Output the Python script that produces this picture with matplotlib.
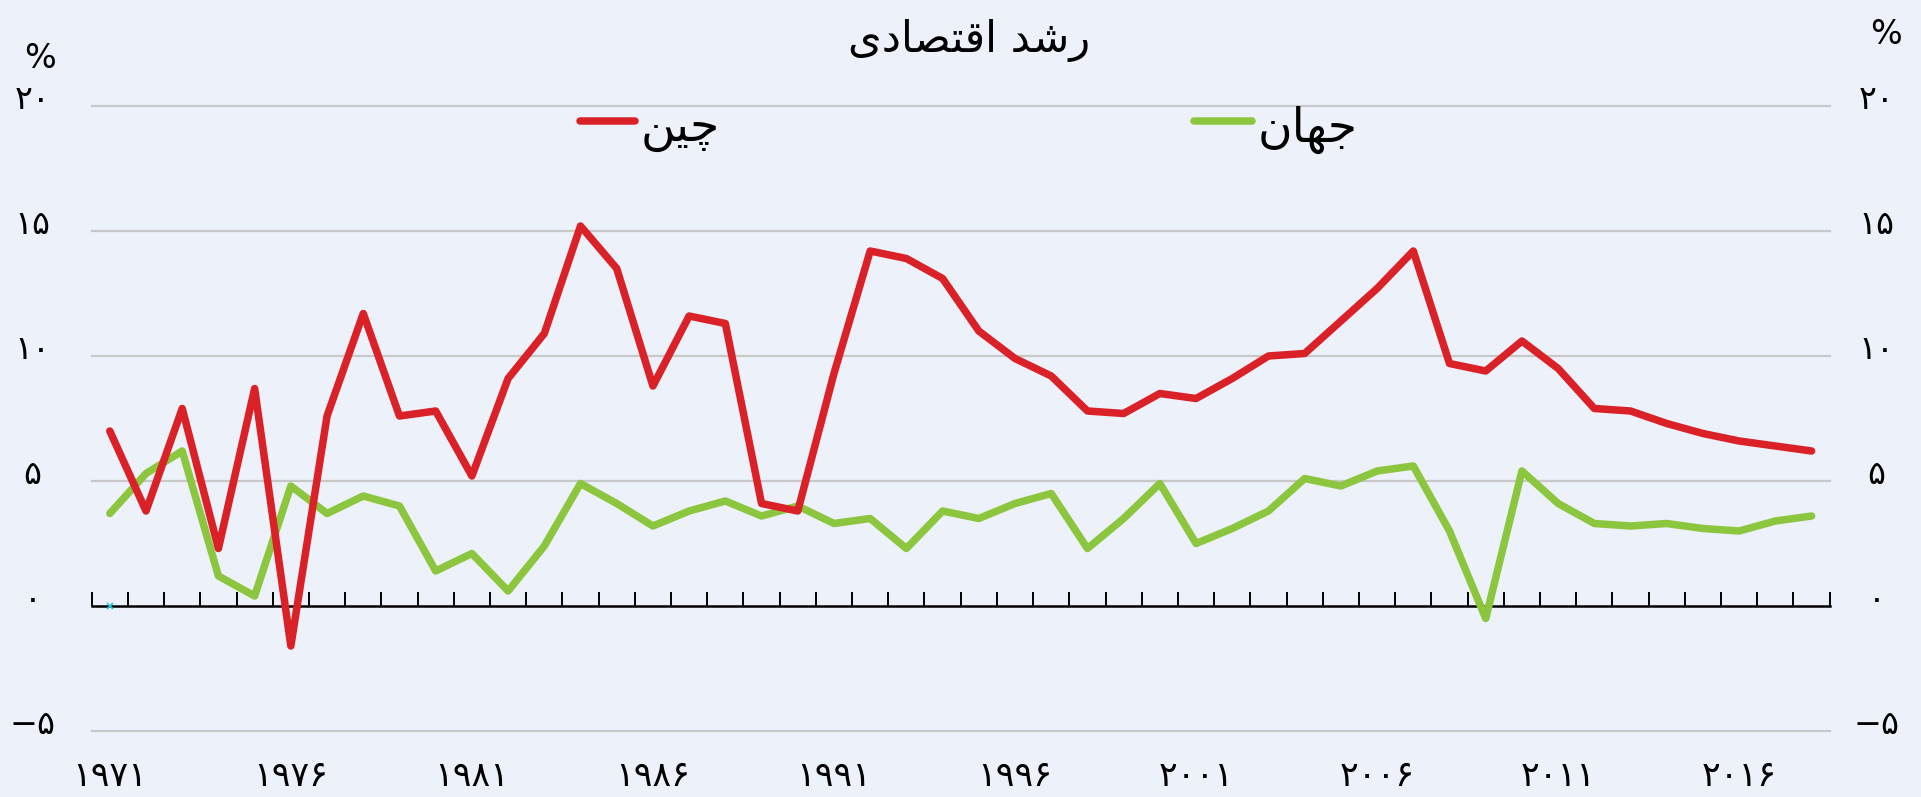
import matplotlib
matplotlib.use("Agg")
import matplotlib.pyplot as plt
from matplotlib.lines import Line2D
import numpy as np

# Data: annual GDP growth (%), 1971-2018
years = list(range(1971, 2019))
china = [7.0, 3.8, 7.9, 2.3, 8.7, -1.6, 7.6, 11.7, 7.6, 7.8,
         5.2, 9.1, 10.9, 15.2, 13.5, 8.8, 11.6, 11.3, 4.1, 3.8,
         9.3, 14.2, 13.9, 13.1, 11.0, 9.9, 9.2, 7.8, 7.7, 8.5,
         8.3, 9.1, 10.0, 10.1, 11.4, 12.7, 14.2, 9.7, 9.4, 10.6,
         9.5, 7.9, 7.8, 7.3, 6.9, 6.6, 6.4, 6.2]
world = [3.7, 5.3, 6.2, 1.2, 0.4, 4.8, 3.7, 4.4, 4.0, 1.4,
         2.1, 0.6, 2.4, 4.9, 4.1, 3.2, 3.8, 4.2, 3.6, 4.0,
         3.3, 3.5, 2.3, 3.8, 3.5, 4.1, 4.5, 2.3, 3.5, 4.9,
         2.5, 3.1, 3.8, 5.1, 4.8, 5.4, 5.6, 3.0, -0.5, 5.4,
         4.1, 3.3, 3.2, 3.3, 3.1, 3.0, 3.4, 3.6]
stray_year = [1971]
stray_value = [0]

y_ticks = [-5, 0, 5, 10, 15, 20]
grid_values = [-5, 5, 10, 15, 20]
year_labels = list(range(1971, 2019, 5))

FA_DIGITS = str.maketrans("0123456789-", "۰۱۲۳۴۵۶۷۸۹−")


def fa(n):
    return str(n).translate(FA_DIGITS)


# Persian text written with presentation forms in visual order,
# since matplotlib does no Arabic shaping or bidi
TITLE = "\uFEEF\uFEA9\uFE8E\uFEBC\uFE98\uFED7\uFE8D \uFEAA\uFEB7\uFEAD"
CHINA = "\uFEE6\uFEF4\uFB7C"
WORLD = "\uFEE5\uFE8E\uFEEC\uFE9F"

RED = "#DA2128"
GREEN = "#8CC63F"
BG = "#EDF1FA"
W, H = 1921, 797

plt.rcParams["font.family"] = ["DejaVu Sans"]

fig = plt.figure(figsize=(W / 100, H / 100), dpi=100, facecolor=BG)
ax = fig.add_axes([91.7 / W, 1 - 731 / H, 1738 / W, 625 / H])
ax.set_facecolor(BG)

x = np.arange(len(years))
ax.plot(x, world, color=GREEN, lw=5.4, solid_capstyle="round", solid_joinstyle="round", zorder=3)
ax.plot(x, china, color=RED, lw=5.4, solid_capstyle="round", solid_joinstyle="round", zorder=4)
ax.plot([years.index(y) for y in stray_year], stray_value, "x", color="#22CCDD",
        ms=4, mew=1.2, zorder=5, clip_on=False)

ax.set_xlim(-0.5, len(years) - 0.5)
ax.set_ylim(-5, 20)

for v in grid_values:
    ax.axhline(v, color="#C8C8C8", lw=1.6, zorder=1, clip_on=False)

for s in ["left", "right", "top"]:
    ax.spines[s].set_visible(False)
ax.spines["bottom"].set_position(("data", 0))
ax.spines["bottom"].set_linewidth(1.8)
ax.spines["bottom"].set_zorder(2)

ax.set_xticks(np.arange(-0.5, len(years), 1))
ax.tick_params(axis="x", direction="in", length=10, width=1.4, labelbottom=False)
ax.set_yticks([])

ytr = ax.get_yaxis_transform()
for v in y_ticks:
    ax.text(-0.034, v + 0.25, fa(v), transform=ytr, ha="center", va="center", fontsize=24)
    ax.text(1.027, v + 0.25, fa(v), transform=ytr, ha="center", va="center", fontsize=24)

xtr = ax.get_xaxis_transform()
for yr in year_labels:
    ax.text(years.index(yr), -0.072, fa(yr), transform=xtr, ha="center", va="center", fontsize=25)

fig.text(40 / W, 1 - 58 / H, "%", ha="center", va="center", fontsize=24)
fig.text(1886 / W, 1 - 34 / H, "%", ha="center", va="center", fontsize=24)

fig.text(969 / W, 1 - 40 / H, TITLE, ha="center", va="center", fontsize=31)

# legend
for x0, x1, col, label in [(580, 635, RED, CHINA), (1194, 1252, GREEN, WORLD)]:
    fig.add_artist(Line2D([x0 / W, x1 / W], [1 - 121 / H] * 2, color=col, lw=5.4,
                          solid_capstyle="round", transform=fig.transFigure))
    fig.text((x1 + 6) / W, 1 - 130 / H, label, ha="left", va="center", fontsize=34)

fig.savefig("out.png", dpi=100, facecolor=BG)
